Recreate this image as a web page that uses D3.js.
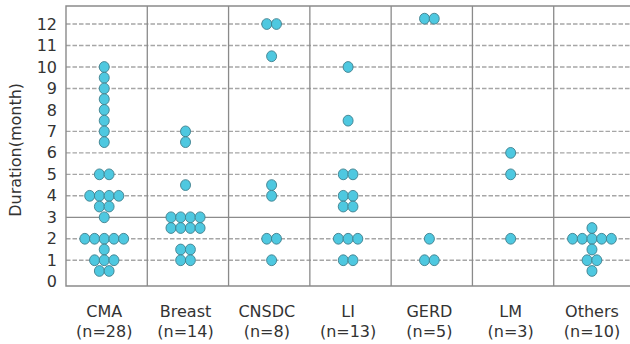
<!DOCTYPE html>
<html>
<head>
<meta charset="utf-8">
<script src="https://cdn.jsdelivr.net/npm/d3@7"></script>
<style>
  body { margin: 0; background: #fff; }
  svg { display: block; font-family: "DejaVu Sans", sans-serif; }
</style>
</head>
<body>
<svg id="vis" width="630" height="344"></svg>
<script>
// categories + sample sizes
let categories = ["CMA", "Breast", "CNSDC", "LI", "GERD", "LM", "Others"];
let sampleN = [28, 14, 8, 13, 5, 3, 10];

// each entry: [duration in months, number of patients at that value]
let cma = [[10,1],[9.5,1],[9,1],[8.5,1],[8,1],[7.5,1],[7,1],[6.5,1],[5,2],[4,4],[3.5,2],[3,1],[2,5],[1.5,1],[1,3],[0.5,2]];
let breast = [[7,1],[6.5,1],[4.5,1],[3,4],[2.5,4],[1.5,2],[1,2]];
let cnsdc = [[12,2],[10.5,1],[4.5,1],[4,1],[2,2],[1,1]];
let li = [[10,1],[7.5,1],[5,2],[4,2],[3.5,2],[2,3],[1,2]];
let gerd = [[12.25,2],[2,1],[1,2]];
let lm = [[6,1],[5,1],[2,1]];
let others = [[2.5,1],[2,5],[1.5,1],[1,2],[0.5,1]];

let yTicks = [0,1,2,3,4,5,6,7,8,9,10,11,12];
let dashedLines = [1,2,4,5,6,7,9,10,11,12];
let solidLines = [3];

let groups = [cma, breast, cnsdc, li, gerd, lm, others];

let margin = { top: 6, left: 66, right: -5, bottom: 58 };
let svg = d3.select("#vis");
let width = +svg.attr("width");
let height = +svg.attr("height");

let x = d3.scaleBand()
    .domain(categories)
    .range([margin.left, width - margin.right])
    .padding(0);

let y = d3.scaleLinear()
    .domain([-0.2, 12.84])
    .range([height - margin.bottom, margin.top]);

let step = 9.7;   // horizontal spacing between stacked dots
let shift = -2.4; // dots sit a bit left of the band centre

// flatten into dots
let dots = [];
groups.forEach((g, ci) => {
    g.forEach(([v, n]) => {
        for (let i = 0; i < n; i++) {
            dots.push({ cat: categories[ci], v: v, off: i - (n - 1) / 2 });
        }
    });
});

// gridlines
svg.append("g").selectAll("line")
    .data(dashedLines)
    .enter().append("line")
        .attr("x1", margin.left)
        .attr("x2", width)
        .attr("y1", d => y(d))
        .attr("y2", d => y(d))
        .attr("stroke", "#a6a6a6")
        .attr("stroke-width", 1.4)
        .attr("stroke-dasharray", "4.5,2");

svg.append("g").selectAll("line")
    .data(solidLines)
    .enter().append("line")
        .attr("x1", margin.left)
        .attr("x2", width)
        .attr("y1", d => y(d))
        .attr("y2", d => y(d))
        .attr("stroke", "#8c8c8c")
        .attr("stroke-width", 1.3);

// category dividers
svg.append("g").selectAll("line")
    .data(categories.slice(1))
    .enter().append("line")
        .attr("x1", d => x(d))
        .attr("x2", d => x(d))
        .attr("y1", y.range()[1])
        .attr("y2", y.range()[0])
        .attr("stroke", "#8a8a8a")
        .attr("stroke-width", 1.3);

// frame: left, top, bottom
let y0 = y.range()[0], y1 = y.range()[1];
svg.append("path")
    .attr("d", `M${width},${y1}H${margin.left}V${y0}H${width}`)
    .attr("fill", "none")
    .attr("stroke", "#8a8a8a")
    .attr("stroke-width", 1.4);

// y axis
let yAxis = svg.append("g")
    .attr("transform", `translate(${margin.left}, 0)`)
    .call(d3.axisLeft(y).tickValues(yTicks).tickSize(0).tickPadding(9));
yAxis.select(".domain").remove();
yAxis.selectAll("text")
    .attr("font-family", "DejaVu Sans, sans-serif")
    .attr("font-size", 16)
    .attr("fill", "#333");

svg.append("text")
    .attr("transform", `translate(21, ${(y(0) + y(12)) / 2 - 3}) rotate(-90)`)
    .attr("text-anchor", "middle")
    .attr("font-size", 16)
    .attr("fill", "#333")
    .text("Duration(month)");

// x labels
let xl = svg.append("g").selectAll("text")
    .data(categories)
    .enter().append("text")
        .attr("text-anchor", "middle")
        .attr("font-size", 16)
        .attr("fill", "#333")
        .attr("x", d => x(d) + x.bandwidth() / 2 + shift);
xl.append("tspan").attr("y", 317).text(d => d);
xl.append("tspan")
    .attr("x", d => x(d) + x.bandwidth() / 2 + shift)
    .attr("y", 337)
    .text((d, i) => `(n=${sampleN[i]})`);

// dots
svg.append("g").selectAll("ellipse")
    .data(dots)
    .enter().append("ellipse")
        .attr("cx", d => x(d.cat) + x.bandwidth() / 2 + shift + (d.cat === "CNSDC" ? 4.8 : 0) + d.off * step)
        .attr("cy", d => y(d.v))
        .attr("rx", 5)
        .attr("ry", 5.4)
        .attr("fill", "#4ec8e0")
        .attr("stroke", "#3f7f8c")
        .attr("stroke-width", 0.9);
</script>
</body>
</html>
